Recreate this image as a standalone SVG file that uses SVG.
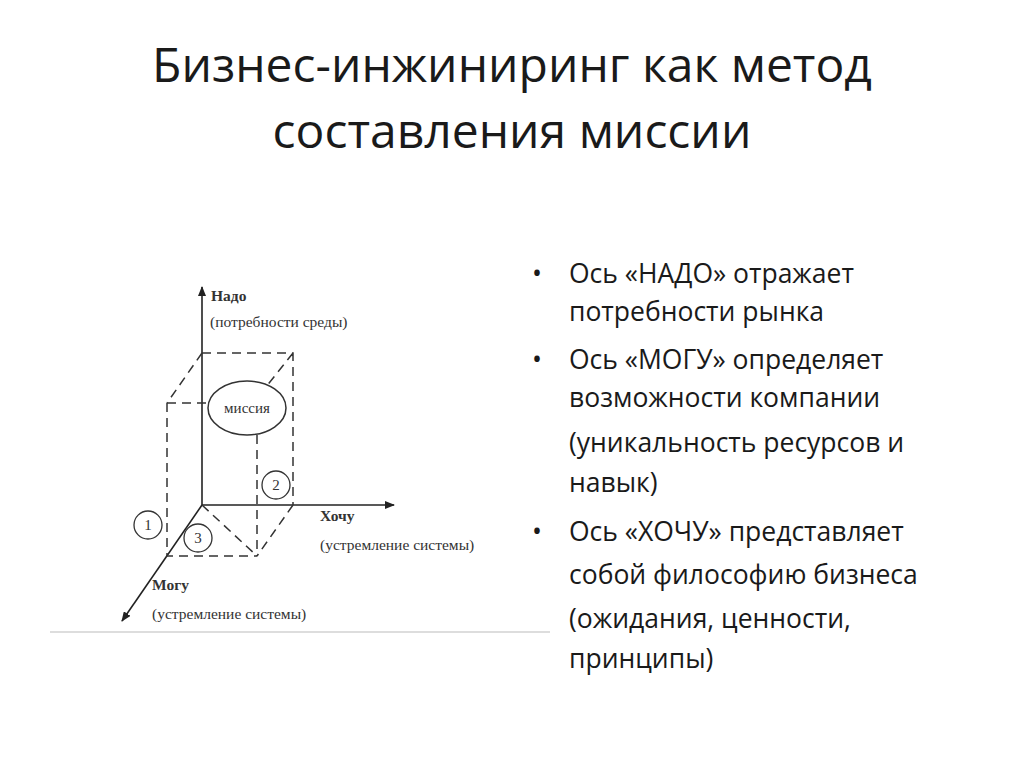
<svg xmlns="http://www.w3.org/2000/svg" width="1024" height="767" viewBox="0 0 1024 767">
<defs>
<style>
.t{font-family:"Open Sans","Liberation Sans",sans-serif;fill:#1a1a1a}
.s{font-family:"Liberation Serif",serif;fill:#333}
.d{fill:none;stroke:#333;stroke-width:1.5;stroke-dasharray:9,6}
.a{fill:none;stroke:#222;stroke-width:1.6}
</style>
<marker id="ar" markerWidth="10" markerHeight="8" refX="9" refY="4" orient="auto" markerUnits="userSpaceOnUse"><path d="M0,0 L10,4 L0,8 Z" fill="#222"/></marker>
</defs>
<rect width="1024" height="767" fill="#fff"/>
<g id="title" class="t" font-size="48" text-anchor="middle">
<text x="512" y="82">Бизнес-инжиниринг как метод</text>
<text x="512" y="148">составления миссии</text>
</g>
<g id="bullets" class="t" font-size="26.5">
<text x="532" y="283">•</text><text x="569" y="283">Ось «НАДО» отражает</text>
<text x="569" y="321">потребности рынка</text>
<text x="532" y="369">•</text><text x="569" y="369">Ось «МОГУ» определяет</text>
<text x="569" y="407">возможности компании</text>
<text x="569" y="452">(уникальность ресурсов и</text>
<text x="569" y="492">навык)</text>
<text x="532" y="541">•</text><text x="569" y="541">Ось «ХОЧУ» представляет</text>
<text x="569" y="584">собой философию бизнеса</text>
<text x="569" y="628">(ожидания, ценности,</text>
<text x="569" y="668">принципы)</text>
</g>
<line x1="50" y1="632" x2="550" y2="632" stroke="#ddd" stroke-width="2"/>
<g id="connectors">
<line class="a" x1="202" y1="505" x2="202" y2="287" marker-end="url(#ar)"/>
<line class="a" x1="202" y1="505" x2="394" y2="505" marker-end="url(#ar)"/>
<line class="a" x1="202" y1="505" x2="122" y2="621" marker-end="url(#ar)"/>
<path class="d" d="M202,353 H293 V505 M202,353 L167,403 M167,403 H208 M293,353 L262,392 M167,403 V556 H257 M257,435 V556 M293,505 L257,556 M202,505 L257,556"/>
</g>
<g id="mission"><ellipse cx="247" cy="408" rx="39" ry="27" fill="#fff" stroke="#333" stroke-width="1.5"/><text class="s" x="247" y="413" font-size="15" text-anchor="middle">миссия</text></g>
<g id="c1"><circle cx="148" cy="525" r="14" fill="#fff" stroke="#333" stroke-width="1.3"/><text class="s" x="148" y="530" font-size="15" text-anchor="middle">1</text></g>
<g id="c2"><circle cx="276" cy="485" r="14" fill="#fff" stroke="#333" stroke-width="1.3"/><text class="s" x="276" y="490" font-size="15" text-anchor="middle">2</text></g>
<g id="c3"><circle cx="198" cy="538" r="14" fill="#fff" stroke="#333" stroke-width="1.3"/><text class="s" x="198" y="543" font-size="15" text-anchor="middle">3</text></g>
<g id="labels" class="s" font-size="15.5">
<text x="211" y="301" font-weight="bold">Надо</text>
<text x="210" y="327">(потребности среды)</text>
<text x="320" y="521" font-weight="bold">Хочу</text>
<text x="320" y="550">(устремление системы)</text>
<text x="152" y="590" font-weight="bold">Могу</text>
<text x="152" y="619">(устремление системы)</text>
</g>
</svg>
